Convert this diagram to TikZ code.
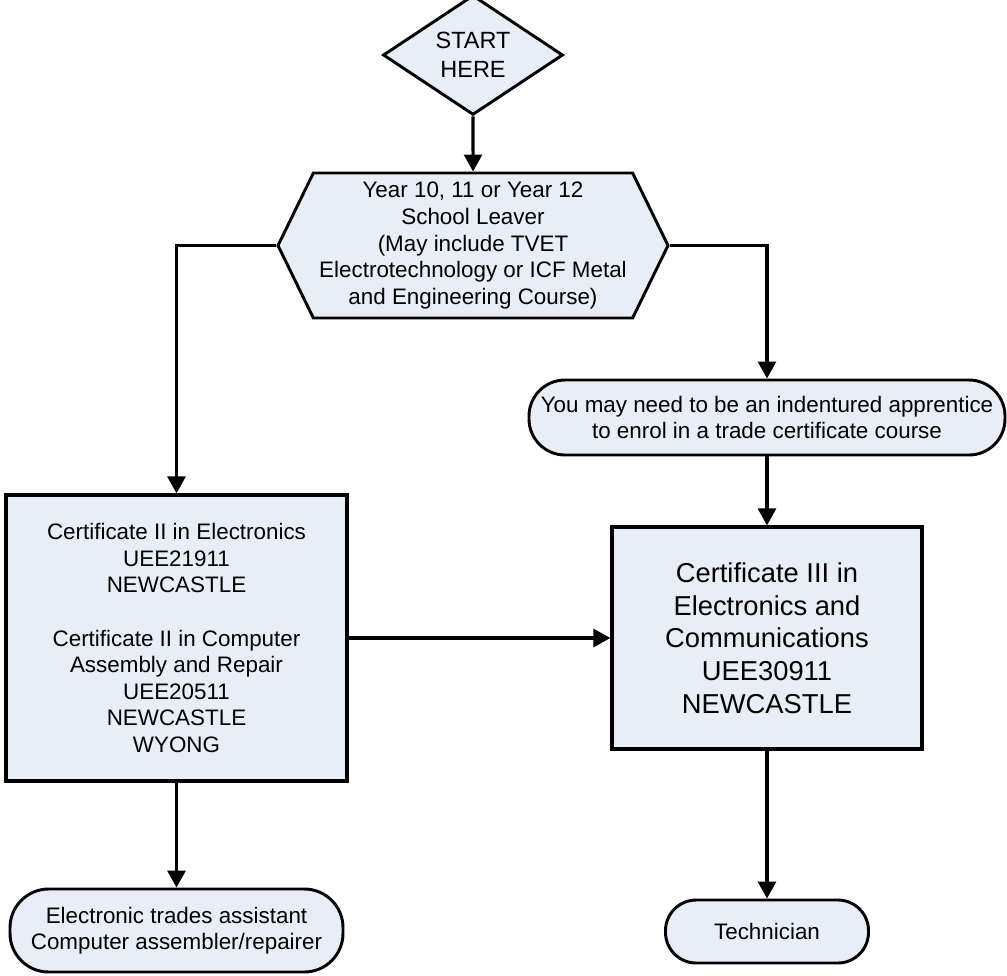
\documentclass[tikz,border=0pt]{standalone}
\usepackage{fontspec}
\setmainfont{Liberation Sans}
\usetikzlibrary{arrows.meta,positioning,shapes.geometric,shapes.symbols}
\definecolor{ChartFill}{HTML}{E8EEF7}
\newcommand{\chartfont}{\fontsize{16.8}{19.9}\selectfont}
\newcommand{\bigchartfont}{\fontsize{20.5}{24.5}\selectfont}
\newcommand{\startfont}{\fontsize{17.6}{21.5}\selectfont}

\begin{document}
\begin{tikzpicture}[x=0.75pt,y=-0.75pt,
  chartshape/.style={draw=black,line width=2.2pt,fill=ChartFill,align=center,
    inner sep=0pt,font=\chartfont},
  box/.style={chartshape,rectangle,line width=2.4pt},
  term/.style={chartshape,rectangle,rounded corners=27pt},
  flow/.style={-{Triangle[length=12.75pt,width=13.5pt]},line width=2.3pt,draw=black}
]
\useasboundingbox (0,0) rectangle (1007,975);
\node[chartshape,diamond,font=\startfont,minimum width=135pt,minimum height=79.5pt] (start) at (473,55)
  {START\\HERE};
\node[chartshape,signal,signal to=west and east,signal pointer angle=128,
  minimum width=292.5pt,minimum height=108.75pt] (leaver) at (473,245.5)
  {Year 10, 11 or Year 12\\School Leaver\\(May include TVET\\Electrotechnology or ICF Metal\\and Engineering Course)};
\node[term,minimum width=357pt,minimum height=56.25pt] (appr) at (767,417.5)
  {You may need to be an indentured apprentice\\to enrol in a trade certificate course};
\node[box,minimum width=255.75pt,minimum height=214.5pt] (cert2) at (176.5,638)
  {Certificate II in Electronics\\UEE21911\\NEWCASTLE\\[19.9pt]Certificate II in Computer\\Assembly and Repair\\UEE20511\\NEWCASTLE\\WYONG};
\node[box,font=\bigchartfont,minimum width=232.5pt,minimum height=166.5pt] (cert3) at (767,638)
  {Certificate III in\\Electronics and\\Communications\\UEE30911\\NEWCASTLE};
\node[term,minimum width=249.75pt,minimum height=62.25pt,rounded corners=29pt] (jobs) at (176.5,930.5)
  {Electronic trades assistant\\Computer assembler/repairer};
\node[term,minimum width=152.25pt,minimum height=47.25pt,rounded corners=23pt] (tech) at (767,931.5)
  {Technician};
% connectors
\draw[flow] (start) -- (leaver);
\draw[flow] (leaver.west) -| (cert2);
\draw[flow] (leaver.east) -| (appr);
\draw[flow] (appr) -- (cert3);
\draw[flow] (cert2) -- (cert3);
\draw[flow] (cert2) -- (jobs);
\draw[flow] (cert3) -- (tech);
\end{tikzpicture}
\end{document}
